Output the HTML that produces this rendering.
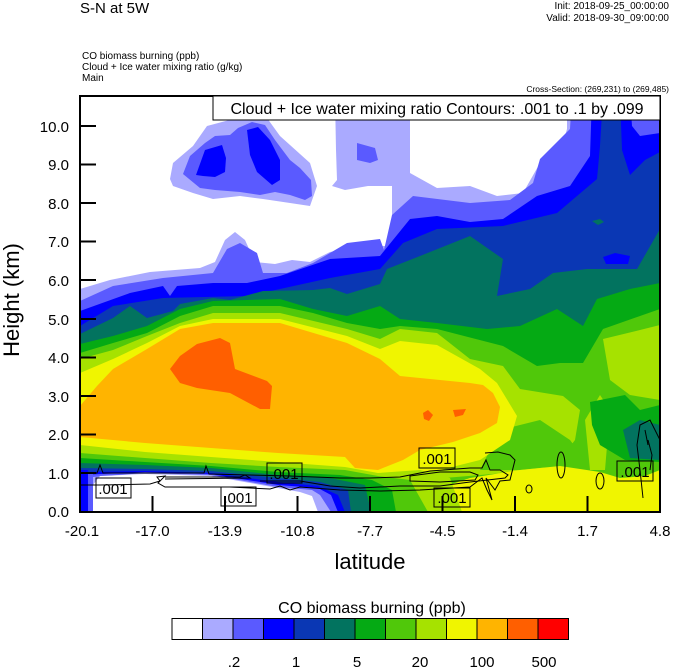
<!DOCTYPE html>
<html><head><meta charset="utf-8"><style>
html,body{margin:0;padding:0;background:#fff}
svg{display:block;font-family:"Liberation Sans",sans-serif}
</style></head><body>
<svg width="674" height="668" viewBox="0 0 674 668" xmlns="http://www.w3.org/2000/svg">
<defs><clipPath id="c"><rect x="80" y="96" width="580" height="416"/></clipPath></defs>
<g clip-path="url(#c)">
<rect x="80" y="96" width="580" height="416" fill="#aaaaff"/>
<path fill="#fff" d="M80,96 L335,96 L336,150 L337,180 L332,186 L345,190 L368,186 L392,186 L392,246 L360,246 L330,252 L310,262 L292,260 L275,264 L255,262 L245,240 L235,232 L225,240 L215,262 L200,268 L150,272 L110,280 L80,289 Z"/>
<path fill="#fff" d="M410,96 L567,96 L567,129 L560,153 L540,163 L523,193 L497,196 L470,186 L437,188 L410,173 Z"/>
<path fill="#aaaaff" d="M170,179 L173,163 L193,146 L207,126 L237,118 L267,118 L280,136 L310,163 L317,186 L310,206 L290,203 L263,199 L240,196 L213,199 L193,193 L173,186 Z"/>
<path fill="#5a5aff" d="M183,174 L190,156 L205,143 L215,136 L230,135 L238,128 L252,122 L265,125 L275,140 L290,160 L300,168 L311,180 L312,196 L305,200 L290,195 L275,192 L260,195 L240,192 L215,190 L200,188 Z"/>
<path fill="#0000ff" d="M196,175 L205,150 L222,145 L226,158 L225,172 L215,177 L203,176 Z"/>
<path fill="#0000ff" d="M247,130 L258,127 L270,140 L280,160 L280,180 L272,185 L257,172 L250,155 Z"/>
<path fill="#5a5aff" d="M357,143 L375,148 L378,160 L370,163 L357,160 Z"/>
<path fill="#5a5aff" d="M80,301 L113,286 L163,278 L213,273 L227,249 L240,243 L257,253 L263,273 L287,273 L313,263 L347,243 L380,239 L384,250 L392,215 L413,196 L470,203 L510,200 L533,183 L540,159 L570,129 L572,96 L660,96 L660,512 L80,512 Z"/>
<path fill="#0000ff" d="M80,311 L130,293 L163,286 L170,296 L177,286 L213,283 L247,283 L280,276 L330,259 L380,256 L410,219 L437,216 L470,222 L503,219 L537,196 L570,186 L590,156 L592,96 L660,96 L660,512 L80,512 Z"/>
<path fill="#5a5aff" d="M630,96 L660,96 L660,133 L640,136 L632,126 Z"/>
<path fill="#0a37b4" d="M80,326 L113,306 L163,298 L247,296 L280,289 L330,278 L380,269 L403,243 L437,229 L503,226 L557,213 L597,179 L600,146 L603,96 L620,96 L622,150 L630,175 L645,160 L660,152 L660,512 L80,512 Z"/>
<path fill="#0000ff" d="M603,257 L615,253 L630,256 L628,264 L606,264 Z"/>
<path fill="#02735f" d="M592,221 L600,219 L604,222 L598,225 Z"/>
<path fill="#02735f" d="M80,334 L113,318 L130,306 L147,318 L173,311 L180,304 L213,298 L230,300 L263,291 L313,290 L330,288 L347,294 L380,284 L387,269 L420,256 L470,236 L503,259 L497,296 L530,289 L553,273 L587,269 L637,269 L660,229 L660,512 L80,512 Z"/>
<path fill="#05aa14" d="M80,344 L113,336 L147,326 L180,309 L213,301 L280,299 L313,309 L347,316 L380,306 L400,319 L437,323 L487,329 L520,326 L557,309 L583,326 L597,299 L630,289 L660,283 L660,512 L80,512 Z"/>
<path fill="#50c80a" d="M80,353 L113,343 L147,333 L180,316 L213,306 L280,306 L313,313 L347,323 L380,329 L400,326 L437,329 L503,346 L537,366 L560,363 L583,363 L603,329 L660,309 L660,512 L80,512 Z"/>
<path fill="#a6e200" d="M80,359 L113,350 L147,336 L180,323 L213,313 L280,313 L347,329 L380,339 L400,329 L437,333 L470,359 L503,366 L520,389 L563,396 L580,410 L575,440 L560,460 L540,470 L420,480 L80,480 Z"/>
<path fill="#a6e200" d="M603,339 L640,330 L660,325 L660,400 L630,395 L610,380 Z"/>
<path fill="#a6e200" d="M585,420 L600,395 L610,410 L605,470 L590,470 Z"/>
<path fill="#05aa14" d="M590,402 L625,395 L640,410 L660,405 L660,462 L625,460 L600,445 L592,425 Z"/>
<path fill="#02735f" d="M623,430 L640,420 L660,425 L660,460 L630,458 Z"/>
<path fill="#50c80a" d="M500,430 L540,420 L570,440 L585,460 L560,466 L520,470 L480,470 Z"/>
<path fill="#f0f500" d="M80,373 L113,359 L147,343 L180,326 L213,319 L280,319 L347,336 L380,349 L400,341 L437,345 L480,369 L497,383 L517,416 L510,440 L480,460 L440,470 L400,475 L80,475 Z"/>
<path fill="#f0f500" d="M425,512 L440,488 L470,478 L520,470 L560,466 L600,472 L620,478 L645,476 L660,470 L660,512 Z"/>
<path fill="#ffb400" d="M80,406 L97,386 L113,369 L130,359 L147,349 L180,329 L213,323 L280,323 L347,343 L380,359 L400,376 L470,383 L483,385 L493,393 L500,407 L497,423 L480,433 L453,442 L420,450 L403,460 L378,470 L355,468 L345,457 L278,453 L211,448 L145,443 L80,437 Z"/>
<path fill="#ff5f00" d="M170,369 L180,356 L197,344 L220,338 L230,343 L235,369 L267,381 L272,386 L270,409 L260,409 L230,393 L197,388 L180,383 Z"/>
<path fill="#ff5f00" d="M423,413 L428,410 L433,415 L429,421 L424,419 Z"/>
<path fill="#ff5f00" d="M453,410 L466,409 L463,415 L455,417 Z"/>
<path fill="#a6e200" d="M80,445 L145,452 L211,457 L278,462 L345,467 L378,473 L420,470 L450,478 L462,512 L80,512 Z"/>
<path fill="#50c80a" d="M80,453 L145,458 L211,463 L278,467 L345,470 L378,476 L410,480 L428,512 L80,512 Z"/>
<path fill="#05aa14" d="M80,458 L145,462 L211,466 L278,472 L340,475 L372,480 L392,490 L396,512 L80,512 Z"/>
<path fill="#02735f" d="M80,463 L145,465 L211,468 L278,475 L330,478 L365,485 L371,512 L80,512 Z"/>
<path fill="#0a37b4" d="M80,468 L145,469 L211,471 L278,478 L320,482 L348,490 L351,512 L80,512 Z"/>
<path fill="#0000ff" d="M80,472 L145,471 L211,473 L278,482 L318,486 L338,495 L345,512 L80,512 Z"/>
<path fill="#5a5aff" d="M80,475 L145,472 L211,474 L278,485 L318,488 L331,495 L338,512 L80,512 Z"/>
<path fill="#aaaaff" d="M80,478 L145,473 L211,475 L278,487 L312,490 L320,495 L331,512 L80,512 Z"/>
<path fill="#fff" d="M93,512 L93,485 L100,476 L145,474 L211,476 L278,488 L300,492 L312,496 L318,512 Z"/>
<rect x="80" y="470" width="8" height="42" fill="#0000ff"/>
<rect x="88" y="474" width="5" height="38" fill="#5a5aff"/>
<g fill="none" stroke="#000" stroke-width="1">
<path d="M80,473 L97,473 L100,465 L103,473 L204,473 L206,466 L209,474 L290,476 L340,478 L370,478 L400,477 L430,471 L470,468 L482,468 L486,460 L490,470 L500,470 L508,475 L505,478 L470,482 L440,486 L400,486 L360,488 L330,486 L300,481 L260,481"/>
<path d="M80,485 L100,485 L150,484 L160,481 L157,477 L165,476 L158,483 L165,487 L190,487 L230,487 L270,489 L280,486 L290,490 L300,487 L340,490 L380,491 L420,490 L470,487 L482,478 L487,490 L492,500 L486,478 L495,490 L500,481 L510,480 L515,460 L510,455 L498,452 L485,453"/>
<path d="M165,477 L240,477 L245,475 L250,478 L165,479"/>
<path d="M410,476 L440,472 L470,472 L478,475 L475,480 L440,482 L410,481 Z"/>
<ellipse cx="561" cy="465" rx="4" ry="13"/>
<ellipse cx="600" cy="481" rx="4" ry="8"/>
<ellipse cx="529" cy="489" rx="3" ry="4"/>
<path d="M643,498 L640,470 L637,445 L640,425 L650,420 L655,430 L660,440 M648,440 L652,455 L650,470 M645,430 L648,445"/>
</g>
<g fill="none" stroke="#000" stroke-width="1">
<rect x="96" y="478" width="35" height="20"/>
<rect x="221" y="487" width="35" height="19"/>
<rect x="267" y="463" width="35" height="20"/>
<rect x="419" y="448" width="36" height="20"/>
<rect x="434" y="488" width="36" height="19"/>
<rect x="617" y="461" width="36" height="20"/>
</g>
<g font-size="15" fill="#000" text-anchor="middle">
<text x="113" y="494">.001</text>
<text x="238" y="503">.001</text>
<text x="284" y="479">.001</text>
<text x="437" y="464">.001</text>
<text x="452" y="503">.001</text>
<text x="635" y="477">.001</text>
</g>
</g>
<rect x="80" y="96" width="580" height="416" fill="none" stroke="#000" stroke-width="2"/>
<g stroke="#000" stroke-width="2">
<line x1="80" y1="126" x2="96" y2="126"/><line x1="80" y1="164.5" x2="96" y2="164.5"/><line x1="80" y1="203" x2="96" y2="203"/><line x1="80" y1="241.5" x2="96" y2="241.5"/><line x1="80" y1="280" x2="96" y2="280"/><line x1="80" y1="319" x2="96" y2="319"/><line x1="80" y1="357.5" x2="96" y2="357.5"/><line x1="80" y1="396" x2="96" y2="396"/><line x1="80" y1="434.5" x2="96" y2="434.5"/><line x1="80" y1="473" x2="96" y2="473"/>
<line x1="152.5" y1="512" x2="152.5" y2="496"/><line x1="225" y1="512" x2="225" y2="496"/><line x1="297.5" y1="512" x2="297.5" y2="496"/><line x1="370" y1="512" x2="370" y2="496"/><line x1="442.5" y1="512" x2="442.5" y2="496"/><line x1="515" y1="512" x2="515" y2="496"/><line x1="587.5" y1="512" x2="587.5" y2="496"/>
</g>
<g font-size="15" text-anchor="end" fill="#000">
<text x="69" y="132">10.0</text><text x="69" y="170">9.0</text><text x="69" y="209">8.0</text><text x="69" y="247">7.0</text><text x="69" y="286">6.0</text><text x="69" y="325">5.0</text><text x="69" y="363">4.0</text><text x="69" y="402">3.0</text><text x="69" y="440">2.0</text><text x="69" y="479">1.0</text><text x="69" y="517">0.0</text>
</g>
<g font-size="15" text-anchor="middle" fill="#000">
<text x="82" y="536">-20.1</text><text x="152.5" y="536">-17.0</text><text x="225" y="536">-13.9</text><text x="297.5" y="536">-10.8</text><text x="370" y="536">-7.7</text><text x="442.5" y="536">-4.5</text><text x="515" y="536">-1.4</text><text x="587.5" y="536">1.7</text><text x="660" y="536">4.8</text>
</g>
<text x="370" y="569" font-size="22" text-anchor="middle">latitude</text>
<text transform="translate(19,300) rotate(-90)" font-size="22" text-anchor="middle">Height (km)</text>
<rect x="213" y="96" width="447" height="24" fill="#fff" stroke="#000" stroke-width="1"/>
<text x="437" y="114" font-size="16" text-anchor="middle">Cloud + Ice water mixing ratio Contours: .001 to .1 by .099</text>
<text x="80" y="13" font-size="15">S-N at 5W</text>
<text x="669" y="9" font-size="10" text-anchor="end">Init: 2018-09-25_00:00:00</text>
<text x="669" y="21" font-size="10" text-anchor="end">Valid: 2018-09-30_09:00:00</text>
<text x="82" y="59" font-size="10">CO biomass burning   (ppb)</text>
<text x="82" y="70" font-size="10">Cloud + Ice water mixing ratio   (g/kg)</text>
<text x="82" y="81" font-size="10">Main</text>
<text x="669" y="92" font-size="8.5" text-anchor="end">Cross-Section: (269,231) to (269,485)</text>
<text x="372" y="613" font-size="16" text-anchor="middle">CO biomass burning  (ppb)</text>
<g stroke="#000" stroke-width="1">
<rect x="172" y="618.5" width="30.5" height="21" fill="#fff"/>
<rect x="202.5" y="618.5" width="30.5" height="21" fill="#aaaaff"/>
<rect x="233" y="618.5" width="30.5" height="21" fill="#5a5aff"/>
<rect x="263.5" y="618.5" width="30.5" height="21" fill="#0000ff"/>
<rect x="294" y="618.5" width="30.5" height="21" fill="#0a37b4"/>
<rect x="324.5" y="618.5" width="30.5" height="21" fill="#02735f"/>
<rect x="355" y="618.5" width="30.5" height="21" fill="#05aa14"/>
<rect x="385.5" y="618.5" width="30.5" height="21" fill="#50c80a"/>
<rect x="416" y="618.5" width="30.5" height="21" fill="#a6e200"/>
<rect x="446.5" y="618.5" width="30.5" height="21" fill="#f0f500"/>
<rect x="477" y="618.5" width="30.5" height="21" fill="#ffb400"/>
<rect x="507.5" y="618.5" width="30.5" height="21" fill="#ff5f00"/>
<rect x="538" y="618.5" width="30.5" height="21" fill="#ff0000"/>
</g>
<g font-size="15" text-anchor="middle">
<text x="234" y="667">.2</text><text x="296" y="667">1</text><text x="357" y="667">5</text><text x="420" y="667">20</text><text x="482" y="667">100</text><text x="544" y="667">500</text>
</g>
</svg>
</body></html>
